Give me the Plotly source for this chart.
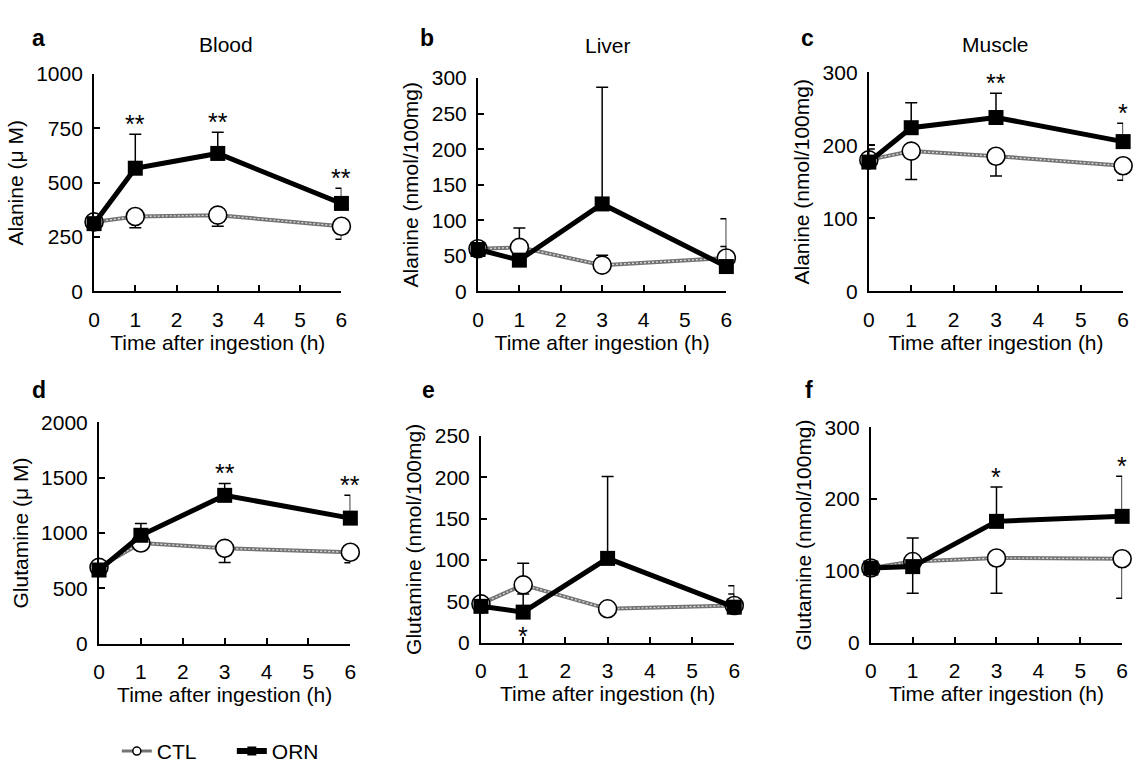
import plotly.graph_objects as go

# ---------------- data ----------------
TIME = [0, 1, 3, 6]
X_TICKS = [0, 1, 2, 3, 4, 5, 6]

# a: Blood alanine (uM)
blood_ala_ctl = [320, 345, 351, 300]
blood_ala_ctl_sd = [20, 52, 51, 60]
blood_ala_orn = [312, 567, 635, 405]
blood_ala_orn_sd = [15, 156, 97, 70]
blood_ala_sig = ["", "**", "**", "**"]

# b: Liver alanine (nmol/100mg)
liver_ala_ctl = [60, 62, 37, 47]
liver_ala_ctl_sd = [5, 27, 14, 16]
liver_ala_orn = [59, 44, 123, 35]
liver_ala_orn_sd = [5, 5, 164, 67]
liver_ala_sig = ["", "", "", ""]

# c: Muscle alanine (nmol/100mg)
muscle_ala_ctl = [180, 192, 185, 172]
muscle_ala_ctl_sd = [10, 39, 27, 20]
muscle_ala_orn = [177, 224, 238, 205]
muscle_ala_orn_sd = [18, 34, 33, 25]
muscle_ala_sig = ["", "", "**", "*"]

# d: Blood glutamine (uM)
blood_gln_ctl = [690, 910, 862, 827]
blood_gln_ctl_sd = [30, 20, 128, 95]
blood_gln_orn = [666, 980, 1341, 1135]
blood_gln_orn_sd = [30, 106, 108, 206]
blood_gln_sig = ["", "", "**", "**"]

# e: Liver glutamine (nmol/100mg)
liver_gln_ctl = [47, 70, 41, 45]
liver_gln_ctl_sd = [5, 26, 5, 14]
liver_gln_orn = [44, 37, 102, 43]
liver_gln_orn_sd = [5, 22, 99, 26]
liver_gln_sig = ["", "*", "", ""]
liver_gln_sig_below = [False, True, False, False]

# f: Muscle glutamine (nmol/100mg)
muscle_gln_ctl = [104, 113, 118, 117]
muscle_gln_ctl_sd = [5, 44, 49, 55]
muscle_gln_orn = [104, 106, 169, 176]
muscle_gln_orn_sd = [5, 40, 48, 56]
muscle_gln_sig = ["", "", "*", "*"]

# ---------------- layout / style ----------------
W, H = 1142, 775
FONT = "Liberation Sans, Arial, sans-serif"
FS = 21
SIG_FS = 25
GRAY = "#737373"

def px_x(a, b):
    return [a / W, b / W]

def px_y(top, bottom):
    return [1 - bottom / H, 1 - top / H]

panels = [
    dict(letter="a", title="Blood", ytitle="Alanine (\u03bc M)", ymax=1000, dtick=250,
         ctl=blood_ala_ctl, ctl_sd=blood_ala_ctl_sd, orn=blood_ala_orn, orn_sd=blood_ala_orn_sd,
         ctl_up=False, sig=blood_ala_sig, below=None,
         xd=px_x(89, 339), yd=px_y(64, 288), lx=33, ly=27, tx=222, ty=33),
    dict(letter="b", title="Liver", ytitle="Alanine (nmol/100mg)", ymax=300, dtick=50,
         ctl=liver_ala_ctl, ctl_sd=liver_ala_ctl_sd, orn=liver_ala_orn, orn_sd=liver_ala_orn_sd,
         ctl_up=True, sig=liver_ala_sig, below=None,
         xd=px_x(477, 728), yd=px_y(68, 288), lx=425, ly=27, tx=608, ty=35),
    dict(letter="c", title="Muscle", ytitle="Alanine (nmol/100mg)", ymax=300, dtick=100,
         ctl=muscle_ala_ctl, ctl_sd=muscle_ala_ctl_sd, orn=muscle_ala_orn, orn_sd=muscle_ala_orn_sd,
         ctl_up=False, sig=muscle_ala_sig, below=None,
         xd=px_x(872, 1129), yd=px_y(62, 288), lx=810, ly=27, tx=1000, ty=33),
    dict(letter="d", title="", ytitle="Glutamine (\u03bc M)", ymax=2000, dtick=500,
         ctl=blood_gln_ctl, ctl_sd=blood_gln_ctl_sd, orn=blood_gln_orn, orn_sd=blood_gln_orn_sd,
         ctl_up=False, sig=blood_gln_sig, below=None,
         xd=px_x(94, 348), yd=px_y(423, 651), lx=33, ly=390, tx=0, ty=0),
    dict(letter="e", title="", ytitle="Glutamine (nmol/100mg)", ymax=250, dtick=50,
         ctl=liver_gln_ctl, ctl_sd=liver_gln_ctl_sd, orn=liver_gln_orn, orn_sd=liver_gln_orn_sd,
         ctl_up=True, sig=liver_gln_sig, below=liver_gln_sig_below,
         xd=px_x(480, 736), yd=px_y(437, 650), lx=427, ly=390, tx=0, ty=0),
    dict(letter="f", title="", ytitle="Glutamine (nmol/100mg)", ymax=300, dtick=100,
         ctl=muscle_gln_ctl, ctl_sd=muscle_gln_ctl_sd, orn=muscle_gln_orn, orn_sd=muscle_gln_orn_sd,
         ctl_up=False, sig=muscle_gln_sig, below=None,
         xd=px_x(874, 1128), yd=px_y(428, 650), lx=812, ly=390, tx=0, ty=0),
]

fig = go.Figure()
annotations = []
layout_axes = {}

for i, p in enumerate(panels):
    n = "" if i == 0 else str(i + 1)
    xa, ya = "x" + n, "y" + n
    zeros = [0] * len(TIME)

    # CTL line (gray rope-like line)
    fig.add_trace(go.Scatter(x=TIME, y=p["ctl"], xaxis=xa, yaxis=ya, mode="lines",
                             line=dict(color=GRAY, width=4), showlegend=False,
                             hoverinfo="skip", cliponaxis=False))
    fig.add_trace(go.Scatter(x=TIME, y=p["ctl"], xaxis=xa, yaxis=ya, mode="lines",
                             line=dict(color="#dcdcdc", width=1.3, dash="2px,2px"),
                             showlegend=False, hoverinfo="skip", cliponaxis=False))
    # CTL markers + error bars
    fig.add_trace(go.Scatter(
        x=TIME, y=p["ctl"], xaxis=xa, yaxis=ya, mode="markers", name="CTL",
        marker=dict(symbol="circle", size=18, color="white", line=dict(color="black", width=1.6)),
        error_y=dict(type="data", symmetric=False,
                     array=p["ctl_sd"] if p["ctl_up"] else zeros,
                     arrayminus=zeros if p["ctl_up"] else p["ctl_sd"],
                     color="black", thickness=1.5, width=6),
        showlegend=False, cliponaxis=False))
    # ORN line + markers + error bars
    fig.add_trace(go.Scatter(
        x=TIME, y=p["orn"], xaxis=xa, yaxis=ya, mode="lines+markers", name="ORN",
        line=dict(color="black", width=5),
        marker=dict(symbol="square", size=15, color="black"),
        error_y=dict(type="data", symmetric=False, array=p["orn_sd"], arrayminus=zeros,
                     color="black", thickness=1.5, width=6),
        showlegend=False, cliponaxis=False))

    layout_axes["xaxis" + n] = dict(
        domain=p["xd"], anchor=ya, range=[0, 6], tickvals=X_TICKS,
        showline=True, linecolor="black", linewidth=2, ticks="inside", ticklen=6,
        tickwidth=1.5, tickcolor="black", showgrid=False, zeroline=False,
        ticklabelstandoff=8,
        tickfont=dict(family=FONT, size=FS, color="black"),
        title=dict(text="Time after ingestion (h)", standoff=5,
                   font=dict(family=FONT, size=FS, color="black")))
    layout_axes["yaxis" + n] = dict(
        domain=p["yd"], anchor=xa, range=[0, p["ymax"]], dtick=p["dtick"], tick0=0,
        showline=True, linecolor="black", linewidth=2, ticks="inside", ticklen=6,
        tickwidth=1.5, tickcolor="black", showgrid=False, zeroline=False,
        ticklabelstandoff=5,
        tickfont=dict(family=FONT, size=FS, color="black"),
        title=dict(text=p["ytitle"], standoff=7,
                   font=dict(family=FONT, size=FS, color="black")))

    # significance marks
    for k, s in enumerate(p["sig"]):
        if not s:
            continue
        below = p["below"][k] if p["below"] else False
        if below:
            annotations.append(dict(x=TIME[k], y=p["orn"][k], xref=xa, yref=ya, text=s,
                                    showarrow=False, yanchor="middle", yshift=-24,
                                    font=dict(family=FONT, size=SIG_FS, color="black")))
        else:
            annotations.append(dict(x=TIME[k], y=p["orn"][k] + p["orn_sd"][k], xref=xa, yref=ya,
                                    text=s, showarrow=False, yanchor="middle", yshift=10,
                                    font=dict(family=FONT, size=SIG_FS, color="black")))

    # panel letter and title
    annotations.append(dict(x=p["lx"] / W, y=1 - p["ly"] / H, xref="paper", yref="paper",
                            text="<b>%s</b>" % p["letter"], showarrow=False,
                            xanchor="center", yanchor="middle",
                            font=dict(family=FONT, size=23, color="black")))
    if p["title"]:
        annotations.append(dict(x=p["tx"] / W, y=1 - p["ty"] / H, xref="paper", yref="paper",
                                text=p["title"], showarrow=False,
                                xanchor="center", yanchor="middle",
                                font=dict(family=FONT, size=FS, color="black")))

# legend-only entries
fig.add_trace(go.Scatter(x=[None], y=[None], mode="lines+markers", name="CTL",
                         line=dict(color=GRAY, width=3),
                         marker=dict(symbol="circle", size=8, color="white",
                                     line=dict(color="black", width=1.5))))
fig.add_trace(go.Scatter(x=[None], y=[None], mode="lines+markers", name="ORN",
                         line=dict(color="black", width=6),
                         marker=dict(symbol="square", size=9, color="black")))

fig.update_layout(
    width=W, height=H, margin=dict(l=0, r=0, t=0, b=0),
    paper_bgcolor="white", plot_bgcolor="white",
    font=dict(family=FONT, size=FS, color="black"),
    annotations=annotations,
    showlegend=True,
    legend=dict(orientation="h", x=112 / W, y=1 - 762 / H, xanchor="left", yanchor="middle",
                font=dict(family=FONT, size=FS, color="black"), bgcolor="rgba(0,0,0,0)",
                itemclick=False, entrywidth=70, entrywidthmode="pixels"),
    **layout_axes,
)

fig.write_html("out.html", config={"displayModeBar": False})
